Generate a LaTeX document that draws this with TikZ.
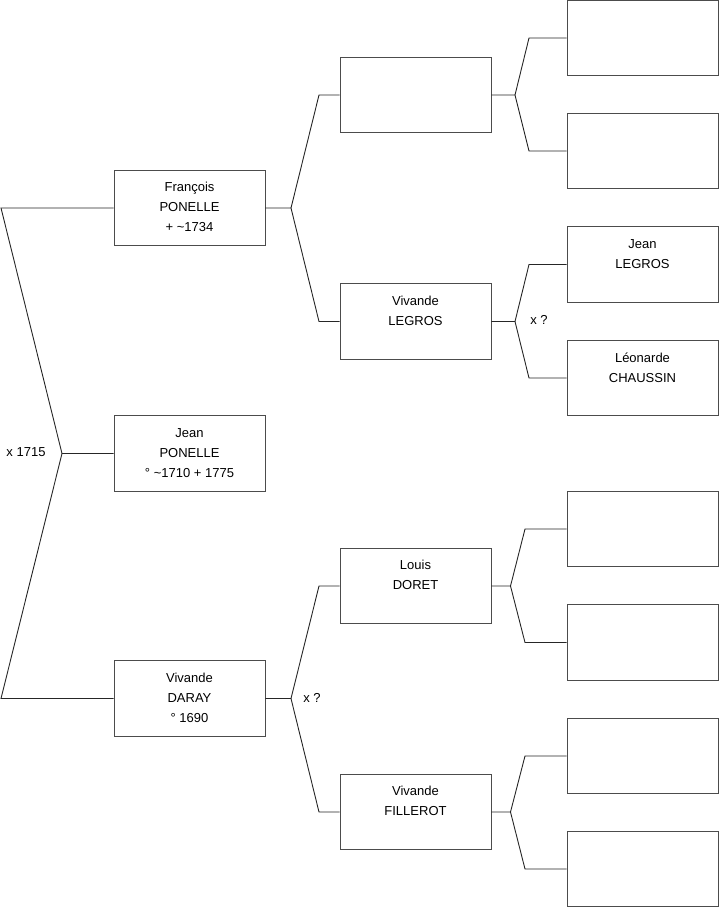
\documentclass[tikz,border=0pt]{standalone}
\usepackage{fontspec}
\setmainfont{Liberation Sans}
\usepackage{tikz}
\usetikzlibrary{positioning}

\tikzset{
  personbox/.style={draw=black!70, line width=0.9pt, minimum width=151pt, minimum height=75.5pt,
    inner sep=0pt, text depth=1.5pt, align=center, font=\fontsize{13}{20}\selectfont},
  forkline/.style={draw=black!85, line width=0.9pt},
  marriage/.style={font=\fontsize{13}{15}\selectfont, inner sep=0pt}
}

\begin{document}
\begin{tikzpicture}[x=1pt, y=-1pt]
\useasboundingbox (0,0) rectangle (719,908);
% generation 1
\node[personbox] (fra) at (189.5,208) {François\\PONELLE\\+ \textasciitilde1734};
\node[personbox] (jea) at (189.5,453.5) {Jean\\PONELLE\\° \textasciitilde1710 + 1775};
\node[personbox] (dar) at (189.5,698.5) {Vivande\\DARAY\\° 1690};
% generation 2
\node[personbox] (fraF) at (415.5,95) {};
\node[personbox] (fraM) at (415.5,321.5) {Vivande\\LEGROS\\\mbox{}};
\node[personbox] (darF) at (415.5,586) {Louis\\DORET\\\mbox{}};
\node[personbox] (darM) at (415.5,812) {Vivande\\FILLEROT\\\mbox{}};
% generation 3
\node[personbox] (fraFF) at (642.5,38) {};
\node[personbox] (fraFM) at (642.5,151) {};
\node[personbox] (fraMF) at (642.5,264.5) {Jean\\LEGROS\\\mbox{}};
\node[personbox] (fraMM) at (642.5,378) {Léonarde\\CHAUSSIN\\\mbox{}};
\node[personbox] (darFF) at (642.5,529) {};
\node[personbox] (darFM) at (642.5,642.5) {};
\node[personbox] (darMF) at (642.5,756) {};
\node[personbox] (darMM) at (642.5,869) {};

% fork joints
\coordinate (kJ) at (62,453.5); \coordinate (uJ) at (1,208); \coordinate (dJ) at (1,698.5);
\coordinate (k1) at (291,208); \coordinate (u1) at (319,95); \coordinate (d1) at (319,321.5);
\coordinate (k2) at (291,698.5); \coordinate (u2) at (319,586); \coordinate (d2) at (319,812);
\coordinate (k3) at (515,95); \coordinate (u3) at (529,38); \coordinate (d3) at (529,151);
\coordinate (k4) at (515,321.5); \coordinate (u4) at (529,264.5); \coordinate (d4) at (529,378);
\coordinate (k5) at (510.5,586); \coordinate (u5) at (525,529); \coordinate (d5) at (525,642.5);
\coordinate (k6) at (510.5,812); \coordinate (u6) at (525,756); \coordinate (d6) at (525,869);

% connectors
\draw[forkline] (jea.west) -- (kJ) -- (uJ) -- (fra.west);
\draw[forkline] (kJ) -- (dJ) -- (dar.west);
\draw[forkline] (fra.east) -- (k1) -- (u1) -- (fraF.west);
\draw[forkline] (k1) -- (d1) -- (fraM.west);
\draw[forkline] (dar.east) -- (k2) -- (u2) -- (darF.west);
\draw[forkline] (k2) -- (d2) -- (darM.west);
\draw[forkline] (fraF.east) -- (k3) -- (u3) -- (fraFF.west);
\draw[forkline] (k3) -- (d3) -- (fraFM.west);
\draw[forkline] (fraM.east) -- (k4) -- (u4) -- (fraMF.west);
\draw[forkline] (k4) -- (d4) -- (fraMM.west);
\draw[forkline] (darF.east) -- (k5) -- (u5) -- (darFF.west);
\draw[forkline] (k5) -- (d5) -- (darFM.west);
\draw[forkline] (darM.east) -- (k6) -- (u6) -- (darMF.west);
\draw[forkline] (k6) -- (d6) -- (darMM.west);

% marriages
\node[marriage] (mJ) at (26,452) {x 1715};
\node[marriage] (m2) at (312,697.5) {x ?};
\node[marriage] (m4) at (539,320) {x ?};
\end{tikzpicture}
\end{document}
